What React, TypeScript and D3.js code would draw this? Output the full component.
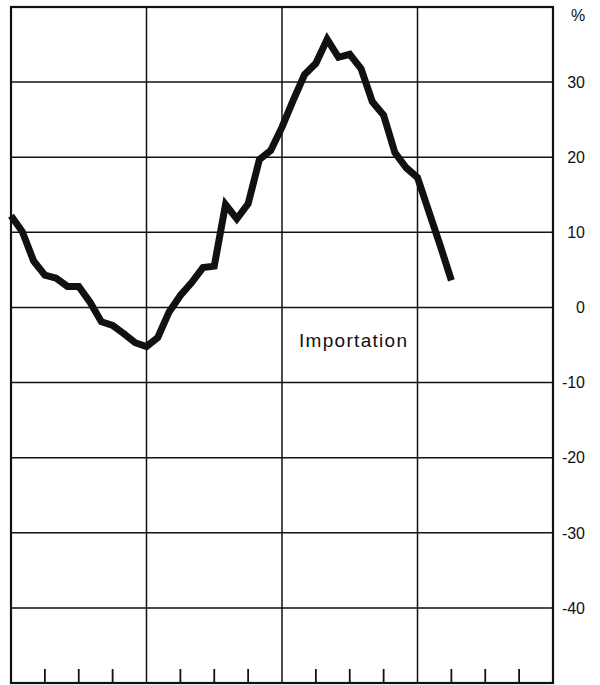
import React from "react";
import * as d3 from "d3";

// Monthly year-on-year change of imports (%)
const importValues = [
  12.2, 10.1, 6.2, 4.3, 3.9, 2.8, 2.8, 0.7, -1.9, -2.4,
  -3.5, -4.7, -5.2, -4.0, -0.6, 1.6, 3.3, 5.3, 5.5, 13.7,
  11.8, 13.8, 19.7, 20.9, 24.0, 27.6, 31.0, 32.5, 35.7, 33.3,
  33.7, 31.8, 27.4, 25.6, 20.6, 18.6, 17.3, 12.8, 8.3, 3.6,
];
const yTicks = [30, 20, 10, 0, -10, -20, -30, -40];
const yearBoundaries = [0, 12, 24, 36, 48]; // months
const quarterTicks = [3, 6, 9, 15, 18, 21, 27, 30, 33, 39, 42, 45];
const seriesLabel = "Importation";
const unitLabel = "%";

const W = 600;
const H = 685;
const left = 11;
const right = 553;
const top = 7;
const bottom = 683;

export default function App() {
  const x = d3.scaleLinear().domain([0, 48]).range([left, right]);
  const y = d3.scaleLinear().domain([-50, 40]).range([bottom, top]);
  const line = d3
    .line<number>()
    .x((_, i) => x(i))
    .y((d) => y(d))
    .curve(d3.curveLinear);
  const font = "'Liberation Sans', Arial, Helvetica, sans-serif";

  return (
    <div style={{ position: "fixed", left: 0, top: 0, width: W, height: H, background: "#fff" }}>
      <svg width={W} height={H} style={{ display: "block" }}>
        <rect width={W} height={H} fill="#fff" />
        {/* horizontal gridlines */}
        {yTicks.map((t) => (
          <line key={"h" + t} x1={left} x2={right} y1={y(t)} y2={y(t)} stroke="#111" strokeWidth={1.5} />
        ))}
        {/* vertical gridlines (years) */}
        {yearBoundaries.slice(1, -1).map((m) => (
          <line key={"v" + m} x1={x(m)} x2={x(m)} y1={top} y2={bottom} stroke="#111" strokeWidth={1.5} />
        ))}
        {/* quarter ticks */}
        {quarterTicks.map((m) => (
          <line key={"q" + m} x1={x(m)} x2={x(m)} y1={bottom} y2={bottom - 14} stroke="#111" strokeWidth={1.8} />
        ))}
        {/* frame */}
        <rect x={left} y={top} width={right - left} height={bottom - top} fill="none" stroke="#111" strokeWidth={2.2} />
        {/* data line */}
        <path d={line(importValues) || ""} fill="none" stroke="#111" strokeWidth={7} strokeLinejoin="miter" strokeMiterlimit={3} />
        {/* y labels */}
        {yTicks.map((t) => (
          <text key={"l" + t} x={585} y={y(t)} dy="0.36em" textAnchor="end" fontFamily={font} fontSize={16} fill="#111">
            {t < 0 ? "-" + Math.abs(t) : String(t)}
          </text>
        ))}
        <text x={578} y={15} dy="0.36em" textAnchor="middle" fontFamily={font} fontSize={16} fill="#111">
          {unitLabel}
        </text>
        <text x={299} y={347} fontFamily={font} fontSize={19} letterSpacing={1.3} fill="#111">
          {seriesLabel}
        </text>
      </svg>
    </div>
  );
}
